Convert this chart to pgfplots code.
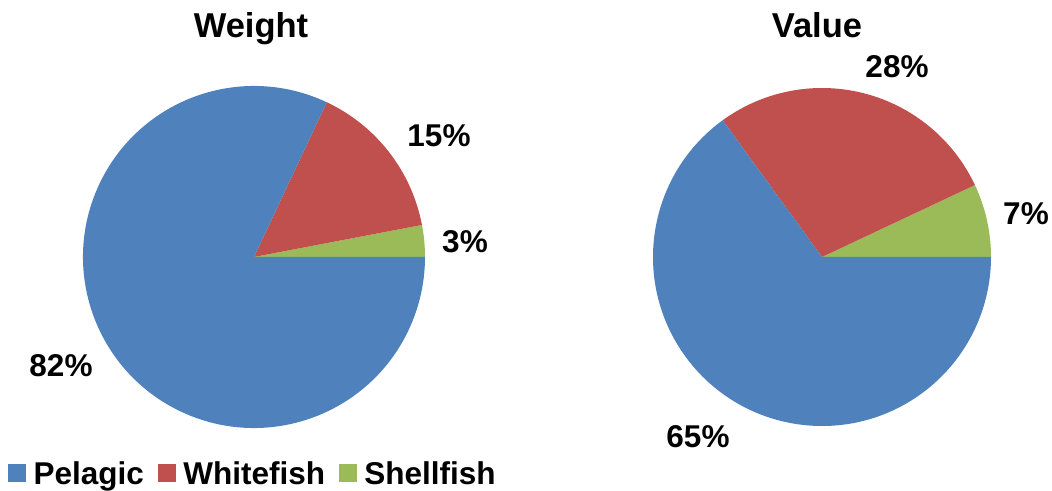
\documentclass[border=0pt]{standalone}
\usepackage{fontspec}
\setmainfont{Liberation Sans}
\usepackage{pgfplots}
\usepackage{pgfplotstable}
\pgfplotsset{compat=1.18}
\definecolor{cPel}{HTML}{4F81BD}
\definecolor{cWhi}{HTML}{C0504D}
\definecolor{cShe}{HTML}{9BBB59}
\pgfplotstableread{
cat weight value
Pelagic 82 65
Whitefish 15 28
Shellfish 3 7
}\fishdata
\begin{document}
\begin{tikzpicture}
\pgfplotstablegetelem{0}{weight}\of\fishdata \let\wP\pgfplotsretval
\pgfplotstablegetelem{1}{weight}\of\fishdata \let\wW\pgfplotsretval
\pgfplotstablegetelem{2}{weight}\of\fishdata \let\wS\pgfplotsretval
\pgfplotstablegetelem{0}{value}\of\fishdata \let\vP\pgfplotsretval
\pgfplotstablegetelem{1}{value}\of\fishdata \let\vW\pgfplotsretval
\pgfplotstablegetelem{2}{value}\of\fishdata \let\vS\pgfplotsretval
\pgfmathsetmacro\wA{3.6*\wS}\pgfmathsetmacro\wB{3.6*(\wS+\wW)}
\pgfmathsetmacro\vA{3.6*\vS}\pgfmathsetmacro\vB{3.6*(\vS+\vW)}
\path[use as bounding box] (0,0) rectangle (1052pt,490pt);
\begin{axis}[
  at={(0,0)}, anchor=south west,
  scale only axis, width=1052pt, height=490pt,
  xmin=0, xmax=1052, ymin=0, ymax=490,
  hide axis, clip=false,
  legend columns=3,
  legend style={at={(axis cs:8,2)}, anchor=south west, draw=none, fill=none,
    font=\fontsize{31.5}{37}\selectfont\bfseries, inner sep=0pt,
    /tikz/every odd column/.append style={column sep=6pt},
    /tikz/every even column/.append style={column sep=12pt}},
  legend image code/.code={\fill[#1] (0pt,-8pt) rectangle (17pt,9pt);},
]
\addlegendimage{cPel}\addlegendentry{Pelagic}
\addlegendimage{cWhi}\addlegendentry{Whitefish}
\addlegendimage{cShe}\addlegendentry{Shellfish}
% Weight pie
\fill[cShe] (axis cs:254,233) -- ++(0:171pt) arc[start angle=0, end angle=\wA, radius=171pt] -- cycle;
\fill[cWhi] (axis cs:254,233) -- ++(\wA:171pt) arc[start angle=\wA, end angle=\wB, radius=171pt] -- cycle;
\fill[cPel] (axis cs:254,233) -- ++(\wB:171pt) arc[start angle=\wB, end angle=360, radius=171pt] -- cycle;
% Value pie
\fill[cShe] (axis cs:822,233) -- ++(0:169pt) arc[start angle=0, end angle=\vA, radius=169pt] -- cycle;
\fill[cWhi] (axis cs:822,233) -- ++(\vA:169pt) arc[start angle=\vA, end angle=\vB, radius=169pt] -- cycle;
\fill[cPel] (axis cs:822,233) -- ++(\vB:169pt) arc[start angle=\vB, end angle=360, radius=169pt] -- cycle;
% titles
\node[anchor=base, font=\fontsize{34.5}{40}\selectfont\bfseries] at (axis cs:251,452) {Weight};
\node[anchor=base, font=\fontsize{34.5}{40}\selectfont\bfseries] at (axis cs:817,452) {Value};
% labels
\begin{scope}[every node/.style={font=\fontsize{31.5}{36}\selectfont\bfseries}]
\node at (axis cs:439,354) {\wW\%};
\node at (axis cs:465,248) {\wS\%};
\node at (axis cs:61,124) {\wP\%};
\node at (axis cs:897,423) {\vW\%};
\node at (axis cs:1026,276) {\vS\%};
\node at (axis cs:698,53) {\vP\%};
\end{scope}
\end{axis}
\end{tikzpicture}
\end{document}
